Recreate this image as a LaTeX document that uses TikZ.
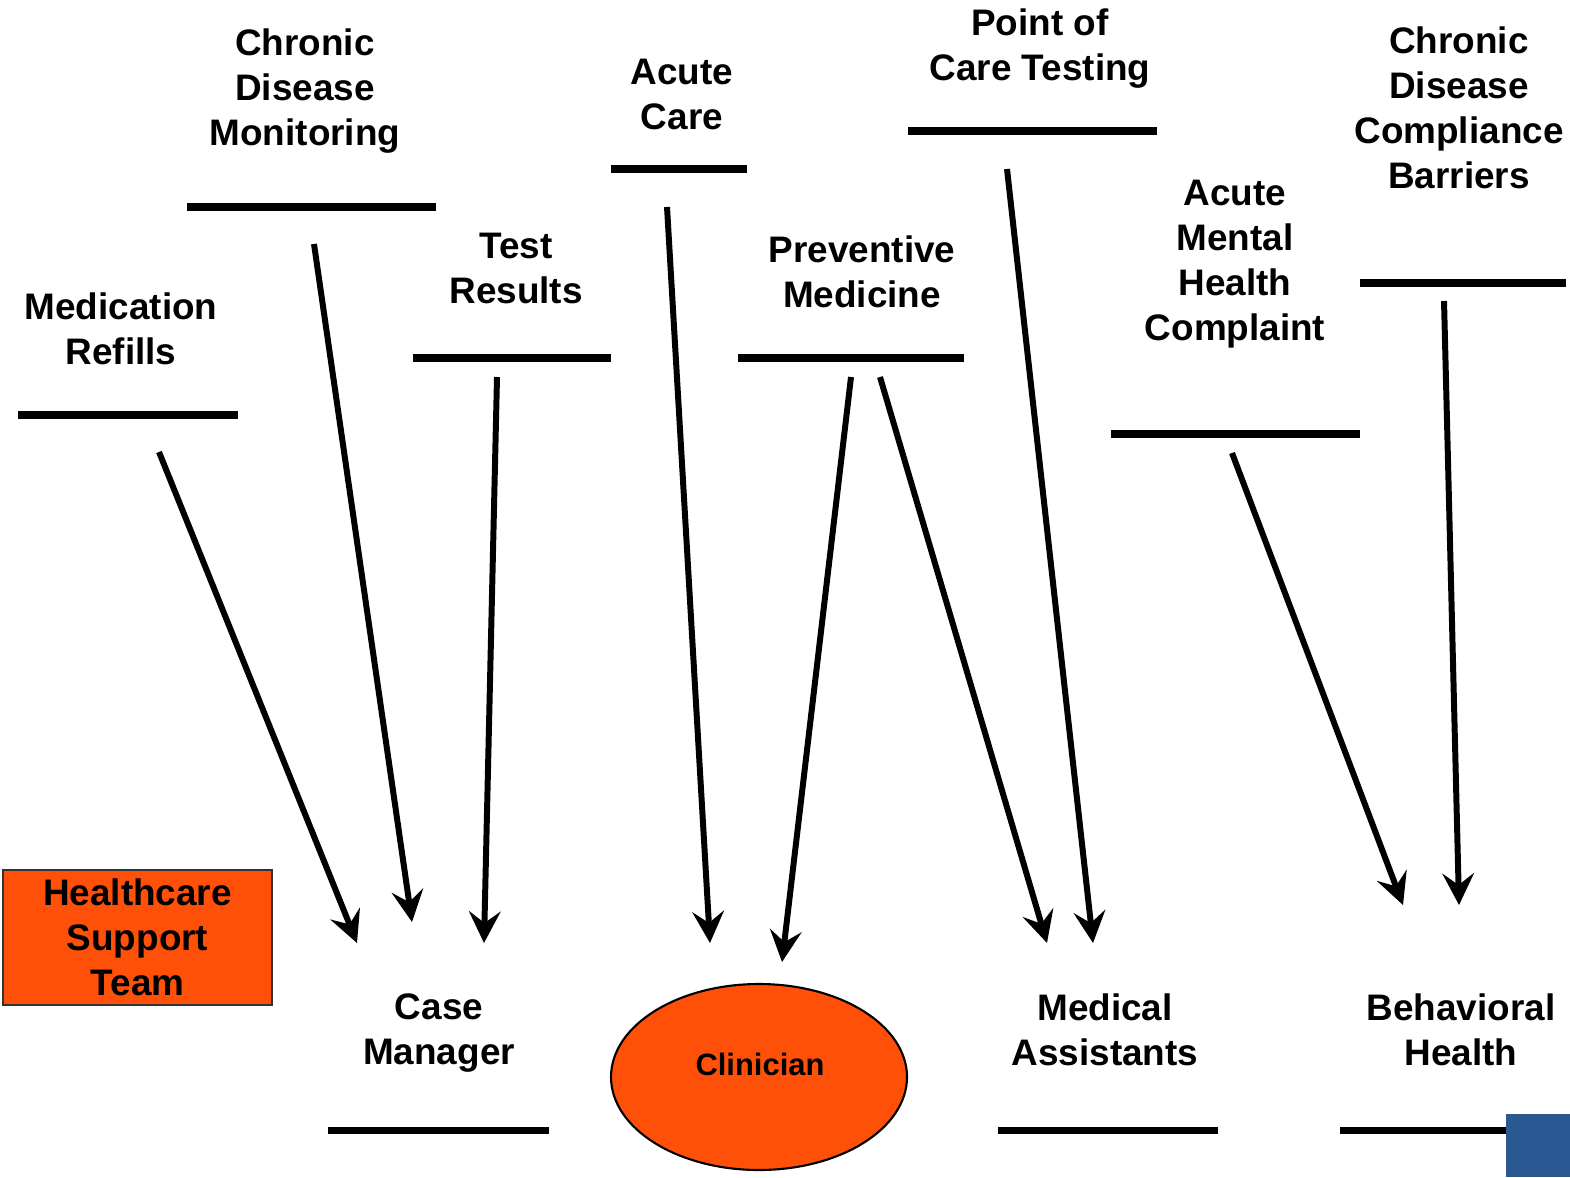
\documentclass[tikz,border=0pt]{standalone}
\usepackage{fontspec}
\setmainfont{Liberation Sans}
\usetikzlibrary{arrows.meta,shapes.geometric}
\definecolor{hotorange}{RGB}{255,80,10}
\definecolor{slideblue}{RGB}{42,88,146}
\tikzset{
  lbl/.style={font=\bfseries\fontsize{10.5}{12.8}\selectfont, align=center, inner sep=0pt, anchor=north},
  bar/.style={line width=2pt},
  flow/.style={line width=1.7pt, -{Stealth[length=9pt,width=9pt,inset=3.3pt]}},
}
\begin{document}
\begin{tikzpicture}[x=0.1mm,y=-0.1mm]
\useasboundingbox (0,0) rectangle (1570,1177);
% tasks
\node[lbl] (medref) at (121,292) {Medication\\Refills};
\node[lbl] (cdmon) at (305,28) {Chronic\\Disease\\Monitoring};
\node[lbl] (tests) at (516,232) {Test\\Results};
\node[lbl] (acute) at (682,58) {Acute\\Care};
\node[lbl] (prev) at (862,235) {Preventive\\Medicine};
\node[lbl] (poct) at (1040,8) {Point of\\Care Testing};
\node[lbl] (amh) at (1235,179) {Acute\\Mental\\Health\\Complaint};
\node[lbl] (cdcb) at (1459,26) {Chronic\\Disease\\Compliance\\Barriers};
\draw[bar] (18,415) -- (238,415);
\draw[bar] (187,207) -- (436,207);
\draw[bar] (413,358) -- (611,358);
\draw[bar] (611,169) -- (747,169);
\draw[bar] (738,358) -- (964,358);
\draw[bar] (908,131) -- (1157,131);
\draw[bar] (1111,434) -- (1360,434);
\draw[bar] (1360,283) -- (1566,283);
% team
\node[draw=black!80, line width=0.6pt, fill=hotorange, minimum width=26.9mm, minimum height=13.5mm,
  font=\bfseries\fontsize{10.5}{12.8}\selectfont, align=center, inner sep=0pt] (team) at (137.5,937.5) {Healthcare\\Support\\Team};
\node[lbl] (cm) at (439,993) {Case\\Manager};
\node[draw, line width=0.6pt, fill=hotorange, ellipse, minimum width=29.6mm, minimum height=18.6mm, inner sep=0pt] (clin) at (759,1077) {};
\node[font=\bfseries\fontsize{8.8}{10}\selectfont, inner sep=0pt] (clintxt) at (760,1064) {Clinician};
\node[lbl] (ma) at (1105,993) {Medical\\Assistants};
\node[lbl] (bh) at (1461,993) {Behavioral\\Health};
\draw[bar] (328,1130) -- (549,1130);
\draw[bar] (998,1130) -- (1218,1130);
\draw[bar] (1340,1130) -- (1566,1130);
% arrow ends
\coordinate (medref-o) at (159,452);
\coordinate (cdmon-o) at (314,244);
\coordinate (tests-o) at (497,377);
\coordinate (acute-o) at (667,207);
\coordinate (prev-o1) at (851,377);
\coordinate (prev-o2) at (880,377);
\coordinate (poct-o) at (1007,169);
\coordinate (amh-o) at (1232,453);
\coordinate (cdcb-o) at (1444,301);
\coordinate (cm-i1) at (357,943);
\coordinate (cm-i2) at (412,922);
\coordinate (cm-i3) at (484,943);
\coordinate (clin-i1) at (710,943);
\coordinate (clin-i2) at (782,962);
\coordinate (ma-i1) at (1047,943);
\coordinate (ma-i2) at (1093,943);
\coordinate (bh-i1) at (1403,905);
\coordinate (bh-i2) at (1459,905);
\draw[flow] (medref-o) -- (cm-i1);
\draw[flow] (cdmon-o) -- (cm-i2);
\draw[flow] (tests-o) -- (cm-i3);
\draw[flow] (acute-o) -- (clin-i1);
\draw[flow] (prev-o1) -- (clin-i2);
\draw[flow] (prev-o2) -- (ma-i1);
\draw[flow] (poct-o) -- (ma-i2);
\draw[flow] (amh-o) -- (bh-i1);
\draw[flow] (cdcb-o) -- (bh-i2);
% corner
\fill[slideblue] (1506,1114) rectangle (1570,1177);
\end{tikzpicture}
\end{document}
